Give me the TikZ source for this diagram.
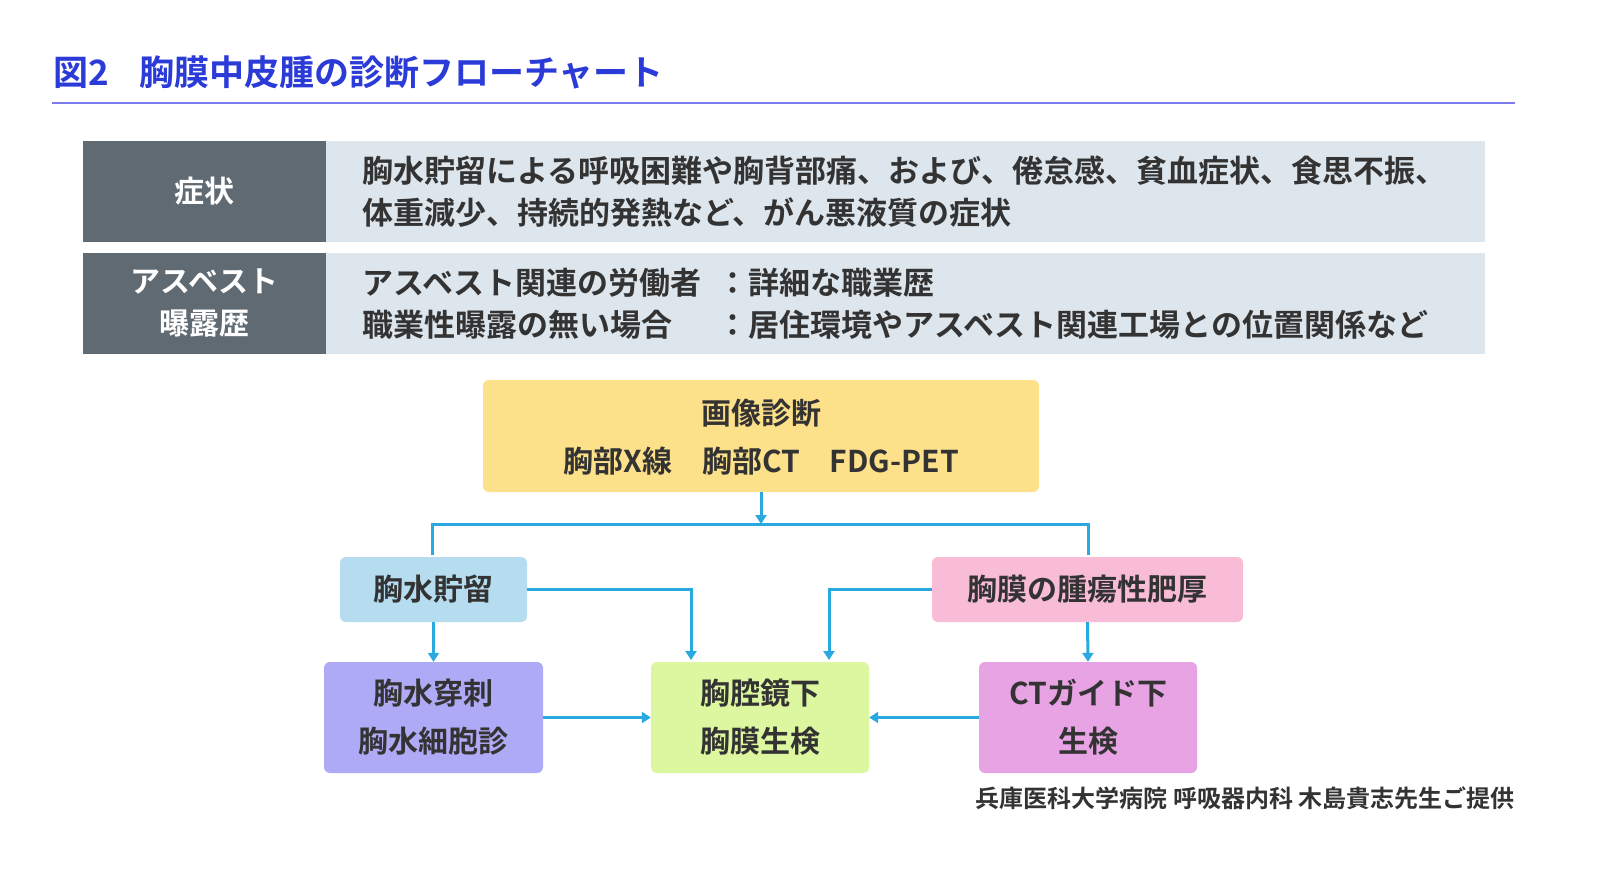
\documentclass[tikz,border=0pt]{standalone}
\usepackage{fontspec}
\setmainfont{Noto Sans CJK JP}[BoldFont={Noto Sans CJK JP Bold}]
\usetikzlibrary{arrows.meta}
\definecolor{tblue}{HTML}{2B3BD8}
\definecolor{tline}{HTML}{7B7BEE}
\definecolor{hdr}{HTML}{5F6A72}
\definecolor{cell}{HTML}{DDE6EC}
\definecolor{arr}{HTML}{2AA8E0}
\definecolor{txt}{HTML}{333333}
\begin{document}
\begin{tikzpicture}[x=1pt,y=-1pt,
  box/.style={rounded corners=6pt,draw=none,inner sep=0},
  t/.style={font=\fontsize{30}{36}\selectfont\bfseries,text=txt,align=center},
  t2/.style={t,font=\fontsize{30}{48}\selectfont\bfseries},
  a/.style={draw=arr,line width=3pt,-{Triangle[length=9pt,width=11pt]}}]
\useasboundingbox (0,0) rectangle (1600,879);
\fill[white] (0,0) rectangle (1600,879);
\node[anchor=west,text=tblue,font=\fontsize{35}{40}\selectfont\bfseries] (title) at (50,72) {図2\hspace{30pt}胸膜中皮腫の診断フローチャート};
\draw[tline,line width=2pt] (52,103) -- (1515,103);
% table
\fill[hdr] (83,141) rectangle (326,242);
\fill[cell] (326,141) rectangle (1485,242);
\fill[hdr] (83,253) rectangle (326,354);
\fill[cell] (326,253) rectangle (1485,354);
\node[t,text=white] (h1) at (204.5,191) {症状};
\node[t,text=white,font=\fontsize{30}{42}\selectfont\bfseries] (h2) at (204.5,303) {アスベスト\\曝露歴};
\node[t,anchor=west,align=left,font=\fontsize{31}{42}\selectfont\bfseries,inner sep=0] (c1) at (362,192) {胸水貯留による呼吸困難や胸背部痛、および、倦怠感、貧血症状、食思不振、\\体重減少、持続的発熱など、がん悪液質の症状};
\node[t,anchor=west,align=left,font=\fontsize{31}{42}\selectfont\bfseries,inner sep=0] (c2) at (362,304) {\makebox[355pt][l]{アスベスト関連の労働者}：詳細な職業歴\\\makebox[355pt][l]{職業性曝露の無い場合}：居住環境やアスベスト関連工場との位置関係など};
% boxes
\node[box,fill={rgb,255:red,253;green,224;blue,138},minimum width=556pt,minimum height=112pt] (img) at (761,436) {};
\node[t] at (761,413) {画像診断};
\node[t] at (761,461) {胸部X線\hspace{30pt}胸部CT\hspace{30pt}FDG-PET};
\node[box,fill={rgb,255:red,181;green,220;blue,239},minimum width=187pt,minimum height=65pt,t] (ef) at (433.5,589.5) {胸水貯留};
\node[box,fill={rgb,255:red,249;green,188;blue,214},minimum width=311pt,minimum height=65pt,t] (pt) at (1087.5,589.5) {胸膜の腫瘍性肥厚};
\node[box,fill={rgb,255:red,174;green,170;blue,245},minimum width=219pt,minimum height=111pt,t2] (tap) at (433.5,717.5) {胸水穿刺\\胸水細胞診};
\node[box,fill={rgb,255:red,221;green,247;blue,160},minimum width=218pt,minimum height=111pt,t2] (thor) at (760,717.5) {胸腔鏡下\\胸膜生検};
\node[box,fill={rgb,255:red,231;green,163;blue,228},minimum width=218pt,minimum height=111pt,t2] (ct) at (1088,717.5) {CTガイド下\\生検};
% connectors
\coordinate (j) at (761,524);
\draw[a] (img.south) -- (j);
\draw[draw=arr,line width=3pt] (432,555) -- (432,524) -- (1088,524) -- (1088,555);
\draw[a] (ef.south) -- (tap.north);
\draw[a] (ef.east) -| (691,660);
\draw[a] (pt.west) -| (829,660);
\draw[a] (pt.south) -- (ct.north);
\draw[a] (tap.east) -- (thor.west);
\draw[a] (ct.west) -- (thor.east);
\node[anchor=east,text=txt,font=\fontsize{24}{28}\selectfont\bfseries,inner sep=0] (cr) at (1515,798) {兵庫医科大学病院 呼吸器内科 木島貴志先生ご提供};
\end{tikzpicture}
\end{document}
